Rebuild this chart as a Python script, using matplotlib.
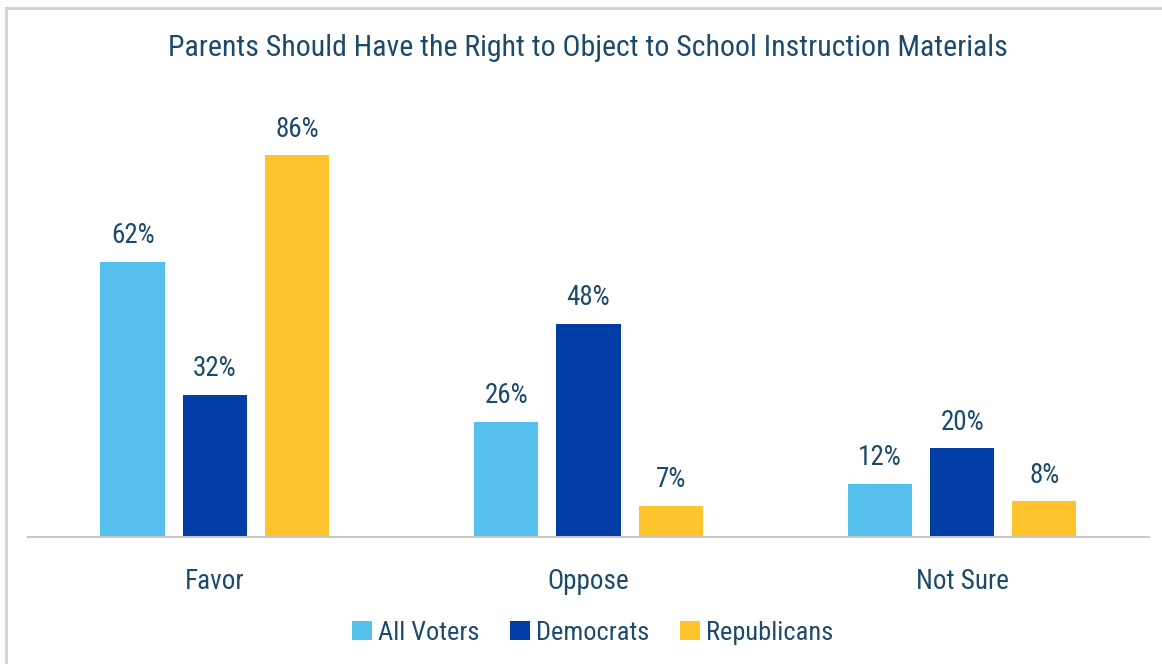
import matplotlib.pyplot as plt
from matplotlib.patches import Patch
from matplotlib.lines import Line2D
import numpy as np

categories = ["Favor", "Oppose", "Not Sure"]
series_names = ["All Voters", "Democrats", "Republicans"]
all_voters = [62, 26, 12]
democrats = [32, 48, 20]
republicans = [86, 7, 8]

colors = ["#56C1ED", "#003DA5", "#FDC42C"]
text_color = "#1D4A6B"

plt.rcParams["font.family"] = ["Roboto Condensed", "Liberation Sans Narrow", "Roboto", "DejaVu Sans"]

fig = plt.figure(figsize=(11.62, 6.64), dpi=100)
ax = fig.add_axes([0.0241, 0.1913, 0.9647, 0.6687])

x = np.arange(len(categories))
width = 0.172
step = 0.22

for i, (vals, name) in enumerate(zip([all_voters, democrats, republicans], series_names)):
    bars = ax.bar(x + (i - 1) * step, vals, width, color=colors[i], label=name)
    for b, v in zip(bars, vals):
        ax.annotate(
            f"{v}%",
            (b.get_x() + b.get_width() / 2, b.get_height()),
            xytext=(0, 9),
            textcoords="offset points",
            ha="center",
            va="bottom",
            fontsize=19.5,
            color=text_color,
        )

ax.set_xlim(-0.5, 2.5)
ax.set_ylim(0, 100)
ax.set_xticks(x)
ax.set_xticklabels(categories, fontsize=19.5, color=text_color)
ax.tick_params(axis="x", length=0, pad=22)
ax.set_yticks([])
for side in ["top", "right", "left"]:
    ax.spines[side].set_visible(False)
ax.spines["bottom"].set_color("#C8C8C8")
ax.spines["bottom"].set_linewidth(1.5)

fig.text(0.506, 0.927, "Parents Should Have the Right to Object to School Instruction Materials",
         ha="center", va="center", fontsize=21.5, color=text_color)

handles = [Patch(facecolor=c) for c in colors]
fig.legend(handles, series_names, loc="center", bbox_to_anchor=(0.510, 0.047), ncol=3,
           frameon=False, fontsize=19, labelcolor=text_color,
           handlelength=0.76, handleheight=0.76, handletextpad=0.25, columnspacing=1.14)

# light frame around the image
fig.add_artist(Line2D([0.0052, 1.0], [0.988, 0.988], color="#D0D0D0", linewidth=2, transform=fig.transFigure))
fig.add_artist(Line2D([0.0052, 0.0052], [0.0, 0.988], color="#D0D0D0", linewidth=2, transform=fig.transFigure))

plt.savefig("out.png", dpi=100)
